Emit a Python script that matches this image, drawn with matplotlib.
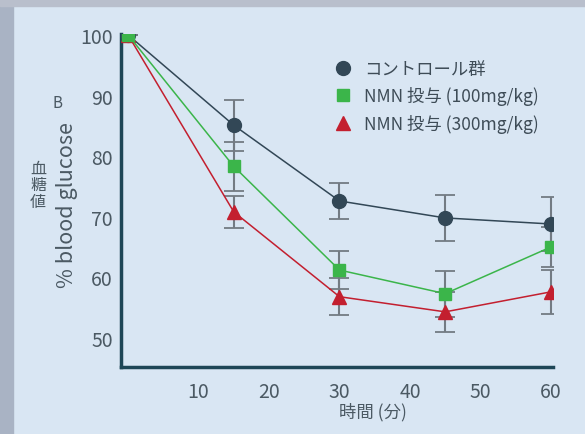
import matplotlib
matplotlib.use("Agg")
import matplotlib.pyplot as plt
from matplotlib.patches import Rectangle

plt.rcParams['font.family'] = ['Noto Sans CJK JP', 'DejaVu Sans']

# data
minutes = [0, 15, 30, 45, 60]
control = [100, 85.1, 72.6, 69.8, 68.8]
control_err = [0, 4.2, 2.9, 3.8, 4.5]
nmn100 = [100, 78.3, 61.2, 57.3, 65.0]
nmn100_err = [0, 4.0, 3.2, 3.8, 3.3]
nmn300 = [100, 70.8, 56.8, 54.3, 57.6]
nmn300_err = [0, 2.6, 3.1, 3.3, 3.6]
labels = ['コントロール群', 'NMN 投与 (100mg/kg)', 'NMN 投与 (300mg/kg)']
xticks = [10, 20, 30, 40, 50, 60]
yticks = [50, 60, 70, 80, 90, 100]

bg = '#d9e6f3'
txt = '#4b5963'
fig = plt.figure(figsize=(5.85, 4.35), dpi=100, facecolor=bg)
# left strip of the backdrop
fig.patches.append(Rectangle((0, 0), 13/585, 1, transform=fig.transFigure,
                             color='#a9b3c4', zorder=0))
fig.patches.append(Rectangle((0, 1-7/435), 1, 7/435, transform=fig.transFigure,
                             color='#b9bfcc', zorder=0))

ax = fig.add_axes([121/585, 1-368/435, (553-121)/585, (368-35)/435])
ax.set_facecolor(bg)

# (values, errors, colour, marker, size, zorder) - green sits on top at t=0
series = [(control, control_err, '#324756', 'o', 10, 3),
          (nmn100, nmn100_err, '#3bb54a', 's', 8.5, 5),
          (nmn300, nmn300_err, '#c31f2f', '^', 9.5, 4)]
handles = []
for vals, err, col, mk, ms, z in series:
    ax.errorbar(minutes, vals, yerr=err, fmt='none', ecolor='#737b83',
                elinewidth=1.5, capsize=7, capthick=1.3, zorder=2)
    h, = ax.plot(minutes, vals, color=col, lw=1.1, marker=mk, ms=ms,
                 mec=col, zorder=z)
    handles.append(h)

ax.set_xlim(-1.0, 60.3)
ax.set_ylim(45.2, 100.15)
ax.set_xticks(xticks)
ax.set_yticks(yticks)
ax.tick_params(length=0, labelsize=14, labelcolor=txt)
ax.tick_params(axis='y', pad=6)
ax.tick_params(axis='x', pad=10)
for s in ['top', 'right']:
    ax.spines[s].set_visible(False)
for s in ['left', 'bottom']:
    ax.spines[s].set_color('#1e4656')
    ax.spines[s].set_linewidth(2.5)

ax.set_ylabel('% blood glucose', fontsize=15.5, color=txt, va='center')
ax.yaxis.set_label_coords(-0.125, 0.49)
ax.set_xlabel('時間 (分)', fontsize=12.5, color=txt, va='center')
ax.xaxis.set_label_coords(0.583, -0.133)
fig.text(58/585, 1-104/435, 'B', fontsize=11, color=txt, ha='center', va='center')
fig.text(38/585, 1-186/435, '血\n糖\n値', fontsize=11.5, color=txt, ha='center',
         va='center', linespacing=1.0)

leg = ax.legend(handles, labels, loc='upper left', bbox_to_anchor=(0.454, 0.968),
                frameon=False, fontsize=12.5, labelspacing=0.47, handlelength=1.2,
                handletextpad=0.6)
for h in leg.legend_handles:
    h.set_linestyle('none')
for t in leg.get_texts():
    t.set_color('#3e4c57')

fig.savefig('out.png', dpi=100, facecolor=bg)
